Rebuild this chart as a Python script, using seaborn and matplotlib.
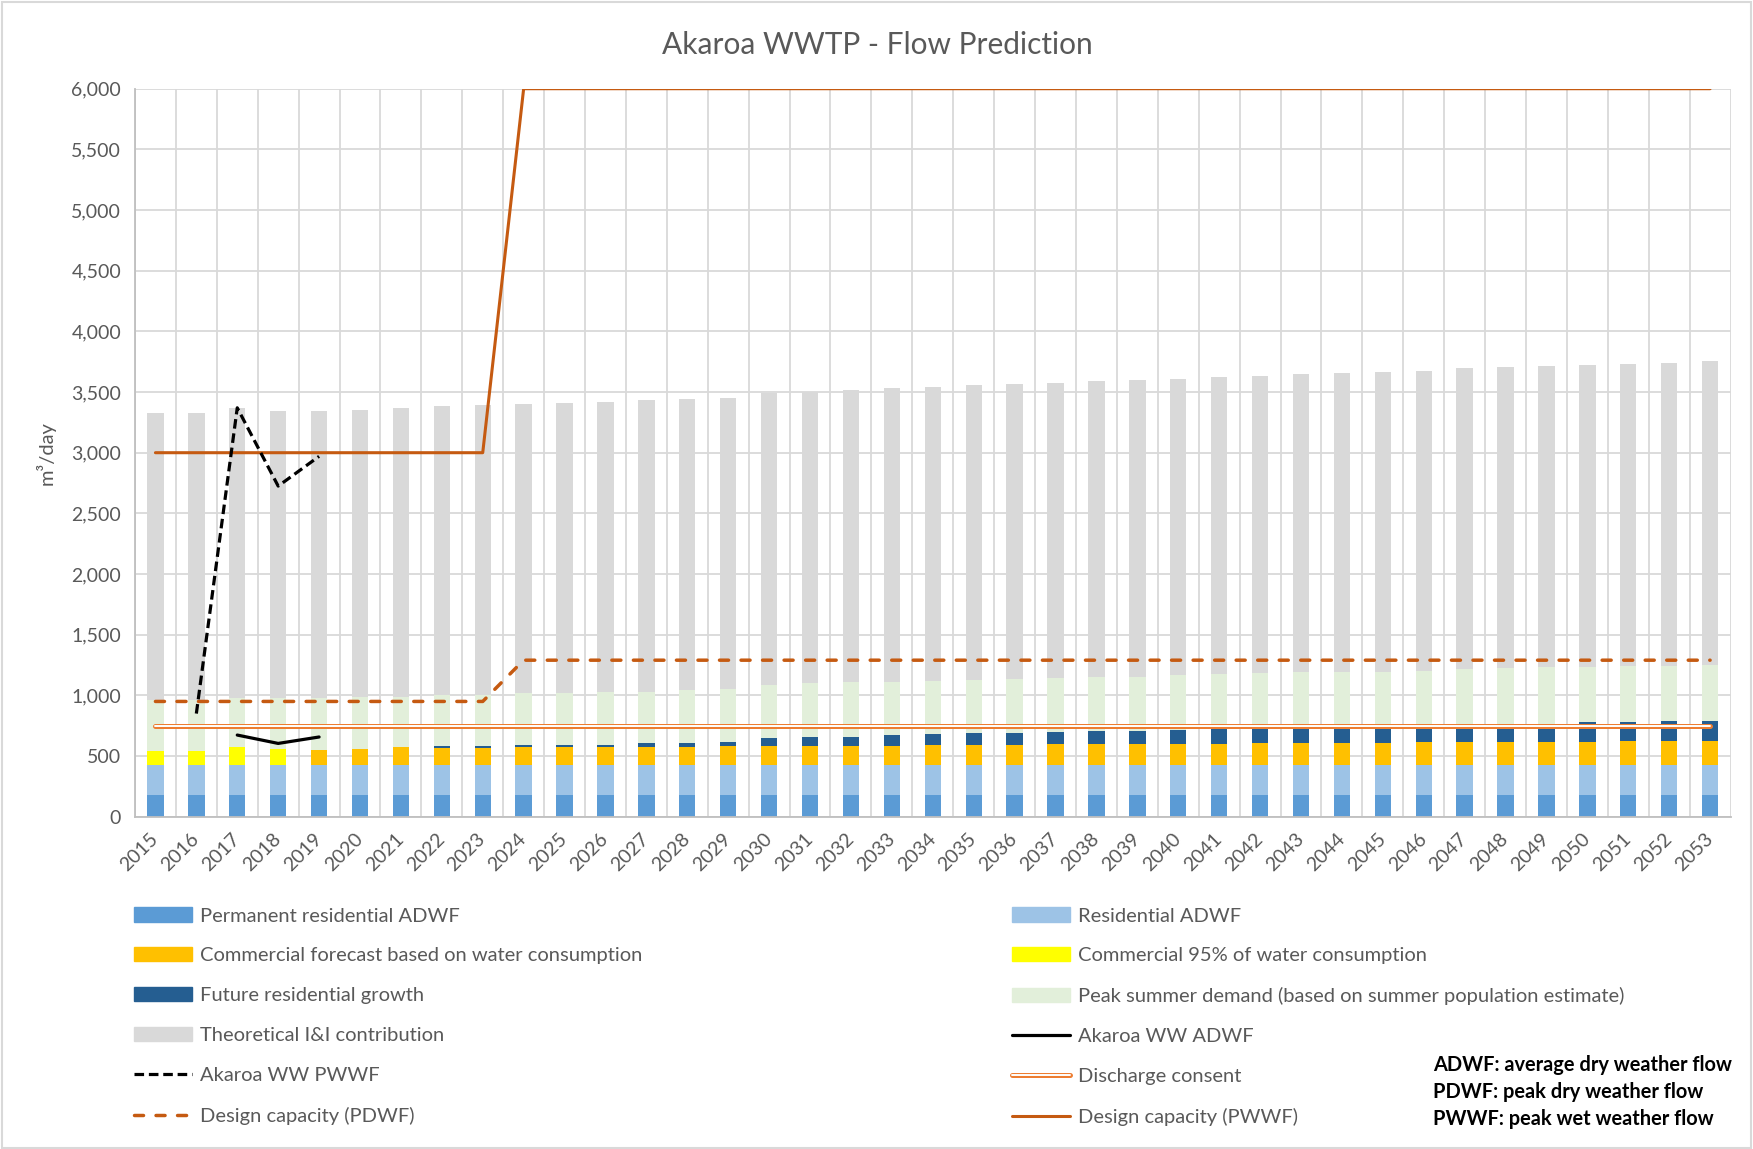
import pandas as pd
import seaborn as sns
import matplotlib.pyplot as plt
import matplotlib.patches as mpatches
import matplotlib.patheffects as pe
from matplotlib.lines import Line2D
from matplotlib.ticker import FuncFormatter, MultipleLocator

years = list(range(2015, 2054))

# stacked bar components (m3/day), bottom to top
permanent_res = [175] * 39
residential = [255] * 39
commercial_95 = [111, 111, 141, 125] + [0] * 35
commercial_fc = [0, 0, 0, 0,
                 122, 130, 141, 139, 139, 141, 142, 142, 142, 142,
                 150, 150, 150, 150, 150, 161, 161, 161, 172, 172,
                 172, 172, 172, 180, 180, 180, 180, 188, 188, 188,
                 188, 188, 196, 196, 196]
future_growth = [0, 0, 0, 0, 0, 0, 0,
                 13, 13, 19, 22, 22, 33, 33, 36, 72, 80, 80, 91, 88,
                 97, 97, 97, 105, 105, 116, 127, 125, 125, 133, 137,
                 137, 137, 143, 143, 162, 154, 162, 162]
peak_summer = [420, 420, 409, 425, 423, 423, 418, 421, 421, 430,
               428, 436, 425, 436, 434, 436, 439, 448, 437, 440,
               436, 444, 442, 448, 448, 448, 445, 447, 458, 447,
               448, 448, 462, 464, 472, 453, 464, 456, 465]
inflow_infil = [2366, 2366, 2385, 2363, 2368, 2371, 2382, 2379, 2390, 2384,
                2390, 2390, 2401, 2399, 2398, 2407, 2401, 2409, 2428, 2425,
                2431, 2431, 2433, 2436, 2447, 2444, 2447, 2447, 2456, 2470,
                2473, 2473, 2478, 2479, 2481, 2492, 2490, 2498, 2500]

# measured / limit lines
pwwf_years = [2016, 2017, 2018, 2019]
pwwf_measured = [850, 3370, 2725, 2970]
adwf_years = [2017, 2018, 2019]
adwf_measured = [673, 604, 657]
design_pdwf = [950] * 9 + [1290] * 30
design_pwwf = [3000] * 9 + [6000] * 30
discharge_consent = [750] * 39

layers = [
    ("Permanent residential ADWF", permanent_res, "#5b9bd5"),
    ("Residential ADWF", residential, "#9dc3e6"),
    ("Commercial forecast based on water consumption", commercial_fc, "#ffc000"),
    ("Commercial 95% of water consumption", commercial_95, "#ffff00"),
    ("Future residential growth", future_growth, "#255e91"),
    ("Peak summer demand (based on summer population estimate)", peak_summer, "#e2efda"),
    ("Theoretical I&I contribution", inflow_infil, "#d9d9d9"),
]

df = pd.DataFrame({"year": [str(y) for y in years]})
running = pd.Series([0] * len(years))
for name, vals, col in layers:
    running = running + pd.Series(vals)
    df[name] = running

TXT = "#595959"
GRID = "#d9d9d9"
ORANGE = "#c55a11"
PWWF_DASH = (0, (3.0, 1.5))
PDWF_DASH = (0, (2.6, 3.6))

sns.set_style("white")
plt.rcParams["font.family"] = ["Lato", "DejaVu Sans"]

fig = plt.figure(figsize=(17.53, 11.49), dpi=100)
ax = fig.add_axes([0.0770, 0.2892, 0.9102, 0.6336])

# overlapping cumulative bars, tallest first
for name, vals, col in reversed(layers):
    sns.barplot(data=df, x="year", y=name, color=col, saturation=1, width=0.4,
                errorbar=None, linewidth=0, ax=ax, zorder=2)

idx = {y: i for i, y in enumerate(years)}
pos = [idx[y] for y in years]

sns.lineplot(x=pos, y=discharge_consent, color="white", linewidth=1.4,
             solid_capstyle="round", ax=ax, zorder=4,
             path_effects=[pe.Stroke(linewidth=3.6, foreground="#ed7d31"), pe.Normal()])
sns.lineplot(x=pos, y=design_pdwf, color=ORANGE, linewidth=2.5, linestyle=PDWF_DASH,
             dash_capstyle="round", ax=ax, zorder=5)
sns.lineplot(x=pos, y=design_pwwf, color=ORANGE, linewidth=2.2, ax=ax, zorder=5)
sns.lineplot(x=[idx[y] for y in pwwf_years], y=pwwf_measured, color="black",
             linewidth=2.3, linestyle=PWWF_DASH, ax=ax, zorder=6)
sns.lineplot(x=[idx[y] for y in adwf_years], y=adwf_measured, color="black",
             linewidth=2.3, ax=ax, zorder=6)

ax.set_xlim(-0.5, len(years) - 0.5)
ax.set_ylim(0, 6000)
ax.yaxis.set_major_locator(MultipleLocator(500))
ax.yaxis.set_major_formatter(FuncFormatter(lambda v, p: f"{int(v):,}"))
ax.set_xticks(range(len(years)))
ax.set_xticklabels([str(y) for y in years], rotation=45, ha="right",
                   va="center", rotation_mode="anchor")
ax.set_xticks([i - 0.5 for i in range(len(years) + 1)], minor=True)
ax.set_axisbelow(True)
ax.grid(False)
ax.yaxis.grid(True, which="major", color=GRID, linewidth=1.3)
ax.xaxis.grid(True, which="minor", color=GRID, linewidth=1.3)
ax.tick_params(axis="both", which="both", length=0, labelsize=14, labelcolor=TXT)
ax.tick_params(axis="x", pad=14)
ax.tick_params(axis="y", pad=10)
ax.set_xlabel("")
ax.set_ylabel("")
for s in ["top", "right"]:
    ax.spines[s].set_visible(False)
for s in ["left", "bottom"]:
    ax.spines[s].set_color("#bfbfbf")
    ax.spines[s].set_linewidth(1.3)

fig.text(0.5006, 0.961, "Akaroa WWTP - Flow Prediction", ha="center", va="center",
         fontsize=21.5, color=TXT)
fig.text(0.0262, 0.606, "m³/day", rotation=90, ha="center", va="center",
         fontsize=14.5, color=TXT)

h = {name: mpatches.Patch(color=col, label=name) for name, vals, col in layers}
h_pwwf = Line2D([], [], color="black", linewidth=2.3, linestyle=PWWF_DASH)
h_pdwf = Line2D([], [], color=ORANGE, linewidth=2.5, linestyle=PDWF_DASH,
                dash_capstyle="round")
h_adwf = Line2D([], [], color="black", linewidth=2.3)
h_cons = Line2D([], [], color="white", linewidth=1.4, solid_capstyle="round",
                path_effects=[pe.Stroke(linewidth=3.6, foreground="#ed7d31"), pe.Normal()])
h_cap = Line2D([], [], color=ORANGE, linewidth=2.2)

left_col = [
    (h["Permanent residential ADWF"], "Permanent residential ADWF"),
    (h["Commercial forecast based on water consumption"], "Commercial forecast based on water consumption"),
    (h["Future residential growth"], "Future residential growth"),
    (h["Theoretical I&I contribution"], "Theoretical I&I contribution"),
    (h_pwwf, "Akaroa WW PWWF"),
    (h_pdwf, "Design capacity (PDWF)"),
]
right_col = [
    (h["Residential ADWF"], "Residential ADWF"),
    (h["Commercial 95% of water consumption"], "Commercial 95% of water consumption"),
    (h["Peak summer demand (based on summer population estimate)"],
     "Peak summer demand (based on summer population estimate)"),
    (h_adwf, "Akaroa WW ADWF"),
    (h_cons, "Discharge consent"),
    (h_cap, "Design capacity (PWWF)"),
]
for col, x0 in [(left_col, 0.0764), (right_col, 0.5773)]:
    leg = fig.legend([c[0] for c in col], [c[1] for c in col], loc="upper left",
                     bbox_to_anchor=(x0, 0.2102), frameon=False, fontsize=14.5,
                     handlelength=2.9, handletextpad=0.4, labelspacing=1.13,
                     borderpad=0, borderaxespad=0, labelcolor=TXT)

notes = ["ADWF: average dry weather flow", "PDWF: peak dry weather flow",
         "PWWF: peak wet weather flow"]
for i, t in enumerate(notes):
    fig.text(0.8175, 0.0728 - i * 0.0235, t, ha="left", va="center",
             fontsize=14.4, fontweight="bold", color="black")

fig.patches.append(mpatches.Rectangle((0.001, 0.001), 0.998, 0.997, transform=fig.transFigure,
                                      fill=False, edgecolor=GRID, linewidth=1.5))

plt.savefig("out.png", dpi=100)
